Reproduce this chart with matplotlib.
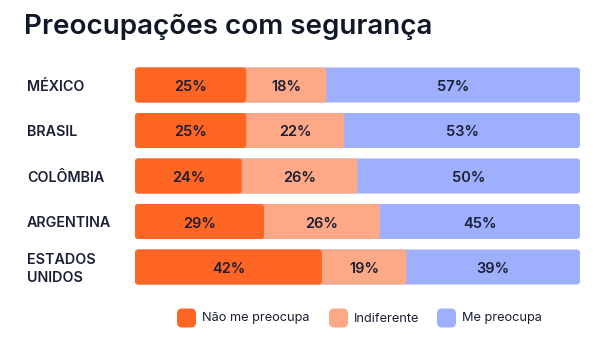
import matplotlib
matplotlib.use("Agg")
import matplotlib.pyplot as plt
from matplotlib.patches import FancyBboxPatch

countries = ["MÉXICO", "BRASIL", "COLÔMBIA", "ARGENTINA", "ESTADOS\nUNIDOS"]
nao_me_preocupa = [25, 25, 24, 29, 42]
indiferente = [18, 22, 26, 26, 19]
me_preocupa = [57, 53, 50, 45, 39]
series_names = ["Não me preocupa", "Indiferente", "Me preocupa"]
colors = ["#FF6624", "#FDA886", "#9EAFFE"]
text_color = "#1B1F33"
title = "Preocupações com segurança"

W, H = 601, 340
fig = plt.figure(figsize=(W / 100, H / 100), dpi=100)
fig.patch.set_facecolor("white")

# bar axes in pixel layout
left_px, right_px = 135, 580
top_px, bot_px = 62.25, 289.75
ax = fig.add_axes([left_px / W, 1 - bot_px / H, (right_px - left_px) / W, (bot_px - top_px) / H])
ax.set_xlim(0, 100)
ax.set_ylim(len(countries) - 0.5, -0.5)
ax.axis("off")

px_per_x = (right_px - left_px) / 100
px_per_y = (bot_px - top_px) / len(countries)
aspect = px_per_x / px_per_y
radius_px = 3.5
bar_h = 35 / px_per_y
baseline_off = 6.0 / px_per_y

series = [nao_me_preocupa, indiferente, me_preocupa]
for i, c in enumerate(countries):
    cums = []
    s = 0
    for vals in series:
        s += vals[i]
        cums.append(s)
    # draw from the widest (back) to the narrowest (front)
    for k in reversed(range(3)):
        p = FancyBboxPatch((0, i - bar_h / 2), cums[k], bar_h,
                           boxstyle=f"round,pad=0,rounding_size={radius_px / px_per_x}",
                           mutation_aspect=aspect, facecolor=colors[k], edgecolor="none")
        ax.add_patch(p)
    start = 0
    for k, vals in enumerate(series):
        v = vals[i]
        ax.text(start + v / 2, i + baseline_off, f"{v}%", ha="center", va="baseline",
                fontsize=10.5, fontweight="semibold", color=text_color, family="Inter")
        start += v

# overlay axes for text in pixel coords
ov = fig.add_axes([0, 0, 1, 1])
ov.set_xlim(0, W)
ov.set_ylim(H, 0)
ov.axis("off")

ov.text(24, 27, title, ha="left", va="center", fontsize=20, fontweight="semibold",
        color="#101828", family="Inter")

row_y = [85, 130, 176, 221, 267]
line_gap = 18.5
for c, y in zip(countries, row_y):
    lines = c.split("\n")
    n = len(lines)
    for j, ln in enumerate(lines):
        base = y + 6 + (j - (n - 1) / 2) * line_gap
        ov.text(27, base, ln, ha="left", va="baseline", fontsize=10.3, fontweight="semibold",
                color=text_color, family="Inter")

leg_x = [177, 329, 437]
for x, name, col in zip(leg_x, series_names, colors):
    p = FancyBboxPatch((x, 308.5), 19, 19, boxstyle="round,pad=0,rounding_size=5",
                       facecolor=col, edgecolor="none")
    ov.add_patch(p)
    ov.text(x + 25, 318.5, name, ha="left", va="center", fontsize=9.2,
            color=text_color, family="Inter")

fig.savefig("out.png", dpi=100, facecolor="white")
